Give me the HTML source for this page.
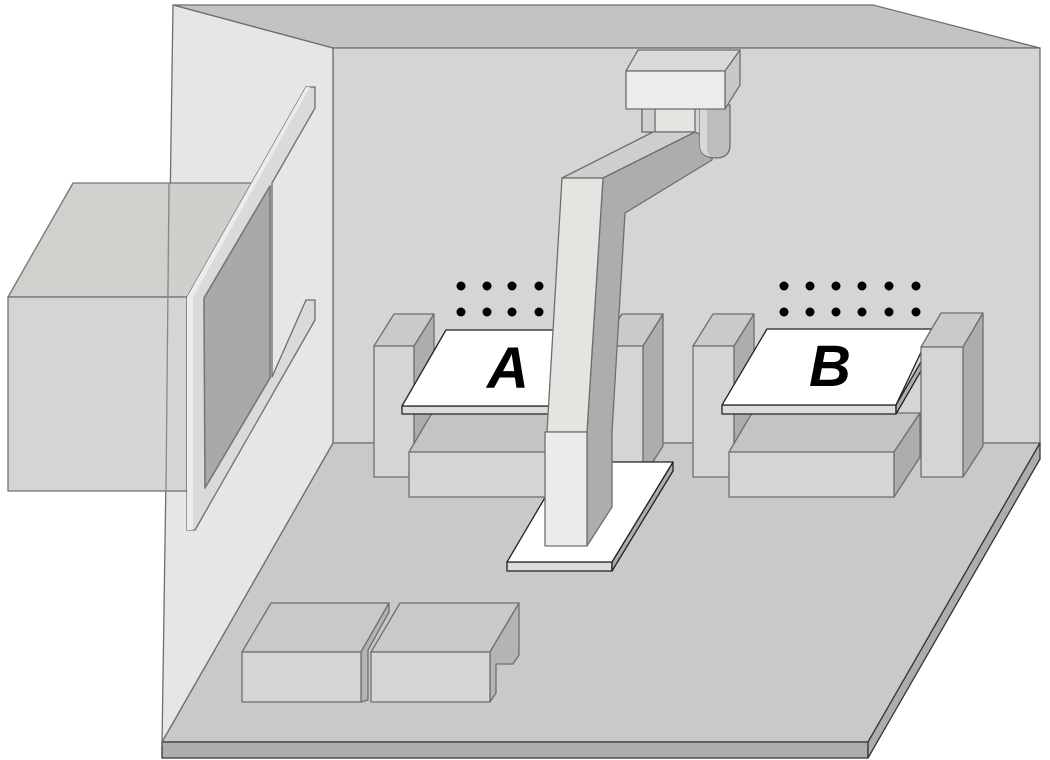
<!DOCTYPE html>
<html><head><meta charset="utf-8"><style>body{margin:0;background:#fff}svg{display:block}</style></head><body>
<svg width="1050" height="760" viewBox="0 0 1050 760" xmlns="http://www.w3.org/2000/svg" stroke="#6e6e6e" stroke-width="1.3" stroke-linejoin="round">
<polygon points="173,5 873,5 1040,48 333,48" fill="#c3c3c3"/>
<polygon points="333,48 1040,48 1040,443 333,443" fill="#d5d5d5"/>
<polygon points="333,443 1040,443 868,742 162,742" fill="#c9c9c9"/>
<polygon points="162,742 868,742 868,758 162,758" fill="#adadad" stroke="#333"/>
<polygon points="868,742 1040,443 1040,459 868,758" fill="#adadad" stroke="#333"/>
<polygon points="173,5 333,48 333,443 162,742 162,745" fill="#e6e6e6"/>
<polygon points="8,297 73,183 270,183 187,297" fill="#cdcfcb" opacity="0.95"/>
<polygon points="8,297 187,297 187,491 8,491" fill="#d5d5d5"/>
<line x1="169" y1="183" x2="166" y2="491" stroke="#888"/>
<polygon points="187,297 306,87 315,87 315,108 272,183 272,377 306,300 315,300 315,320 195,530 187,530" fill="#dadada"/>
<polygon points="187,297 306,87 310,87 193,297 193,530 187,530" fill="#ececec" stroke="none"/>
<polygon points="204,298 270,186 270,378 205,488" fill="#a9a9a9" stroke="#777" stroke-width="1.6"/>
<g fill="#000" stroke="none">
<circle cx="461" cy="286" r="4.5"/><circle cx="487" cy="286" r="4.5"/><circle cx="512" cy="286" r="4.5"/><circle cx="539" cy="286" r="4.5"/>
<circle cx="461" cy="312" r="4.5"/><circle cx="487" cy="312" r="4.5"/><circle cx="512" cy="312" r="4.5"/><circle cx="539" cy="312" r="4.5"/>
<circle cx="784" cy="286" r="4.5"/><circle cx="810" cy="286" r="4.5"/><circle cx="836" cy="286" r="4.5"/><circle cx="862" cy="286" r="4.5"/><circle cx="889" cy="286" r="4.5"/><circle cx="916" cy="286" r="4.5"/>
<circle cx="784" cy="312" r="4.5"/><circle cx="810" cy="312" r="4.5"/><circle cx="836" cy="312" r="4.5"/><circle cx="862" cy="312" r="4.5"/><circle cx="889" cy="312" r="4.5"/><circle cx="916" cy="312" r="4.5"/>
</g>
<g>
<polygon points="374,346 394,314 434,314 414,346" fill="#cacaca"/>
<polygon points="414,346 434,314 434,446 414,477" fill="#adadad"/>
<polygon points="374,346 414,346 414,477 374,477" fill="#d5d5d5"/>
<polygon points="409,452 432,413 600,413 576,452" fill="#c4c4c4"/>
<polygon points="409,452 576,452 576,497 409,497" fill="#d5d5d5"/>
<polygon points="402,406 576,406 576,414 402,414" fill="#dcdcdc" stroke="#222"/>
<polygon points="402,406 446,330 620,330 576,406" fill="#fff" stroke="#222"/>
<text x="508" y="388" font-family="Liberation Sans, sans-serif" font-weight="bold" font-style="italic" font-size="58" text-anchor="middle" fill="#000" stroke="none">A</text>
<polygon points="602,346 622,314 663,314 643,346" fill="#cacaca"/>
<polygon points="643,346 663,314 663,446 643,477" fill="#adadad"/>
<polygon points="602,346 643,346 643,477 602,477" fill="#d5d5d5"/>
</g>
<g>
<polygon points="693,346 713,314 754,314 734,346" fill="#cacaca"/>
<polygon points="734,346 754,314 754,446 734,477" fill="#adadad"/>
<polygon points="693,346 734,346 734,477 693,477" fill="#d5d5d5"/>
<polygon points="729,452 752,413 920,413 894,452" fill="#c4c4c4"/>
<polygon points="894,452 920,413 920,457 894,497" fill="#adadad"/>
<polygon points="729,452 894,452 894,497 729,497" fill="#d5d5d5"/>
<polygon points="722,405 896,405 896,414 722,414" fill="#dcdcdc" stroke="#222"/>
<polygon points="896,405 932,343 932,352 896,414" fill="#adadad" stroke="#222"/>
<polygon points="722,405 767,329 932,329 896,405" fill="#fff" stroke="#222"/>
<text x="830" y="386" font-family="Liberation Sans, sans-serif" font-weight="bold" font-style="italic" font-size="58" text-anchor="middle" fill="#000" stroke="none">B</text>
<polygon points="921,347 941,313 983,313 963,347" fill="#cacaca"/>
<polygon points="963,347 983,313 983,446 963,477" fill="#adadad"/>
<polygon points="921,347 963,347 963,477 921,477" fill="#d5d5d5"/>
</g>
<polygon points="507,562 612,562 612,571 507,571" fill="#dcdcdc" stroke="#222"/>
<polygon points="612,562 673,462 673,471 612,571" fill="#adadad" stroke="#222"/>
<polygon points="507,562 566,462 673,462 612,562" fill="#fff" stroke="#222"/>
<polygon points="642,108 695,108 695,132 642,132" fill="#e4e4e0"/>
<polygon points="642,108 655,108 655,132 642,132" fill="#d0d0d0"/>
<polygon points="603,178 695,132 712,140 712,160 625,213 612,432 612,507 587,546 587,432" fill="#adadad"/>
<path d="M700,105 H730 V145 Q730,158 716,158 Q700,158 700,145 Z" fill="#bdbdbd"/>
<path d="M700,105 H707 V148 Q707,155 712,157 Q700,156 700,145 Z" fill="#d8d8d8" stroke="none"/>
<polygon points="562,178 653,132 695,132 603,178" fill="#cfcfcf"/>
<polygon points="547,432 562,178 603,178 587,432" fill="#e4e5e1"/>
<polygon points="545,432 587,432 587,546 545,546" fill="#ebebeb"/>
<polygon points="626,71 638,50 740,50 725,71" fill="#d9d9d9"/>
<polygon points="725,71 740,50 740,85 725,109" fill="#c8c8c8"/>
<polygon points="626,71 725,71 725,109 626,109" fill="#ececec"/>
<polygon points="242,652 271,603 389,603 361,652" fill="#c9c9c7"/>
<polygon points="361,652 389,603 389,612 368,650 368,700 361,702" fill="#b4b4b4"/>
<polygon points="242,652 361,652 361,702 242,702" fill="#d5d5d5"/>
<polygon points="371,652 400,603 519,603 490,652" fill="#c9c9c7"/>
<polygon points="490,652 519,603 519,655 513,664 496,664 496,693 490,702" fill="#b4b4b4"/>
<polygon points="371,652 490,652 490,702 371,702" fill="#d5d5d5"/>
</svg>
</body></html>
